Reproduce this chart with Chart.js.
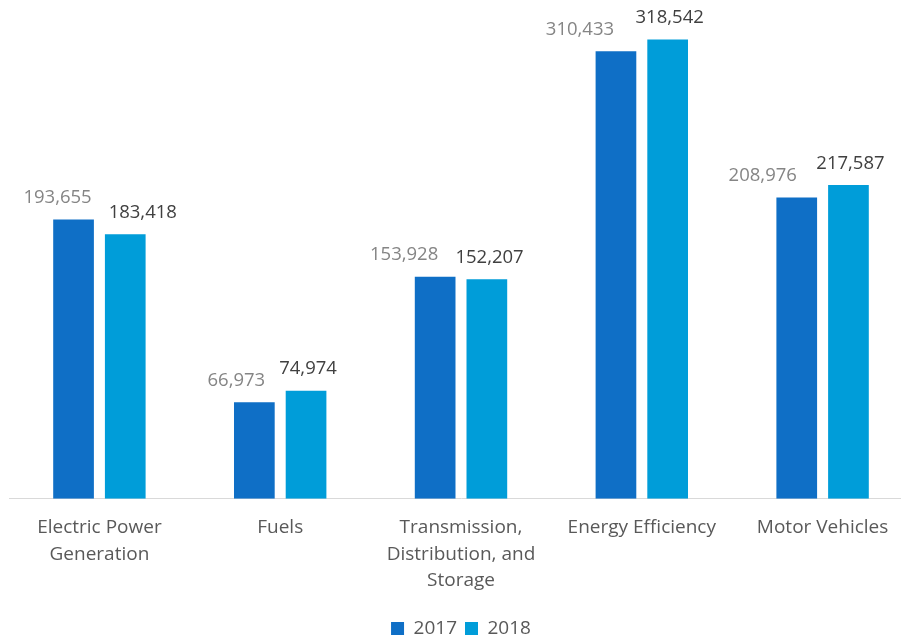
<!DOCTYPE html>
<html>
<head>
<meta charset="utf-8">
<script src="https://cdn.jsdelivr.net/npm/chart.js@4"></script>
<style>
html,body{margin:0;padding:0;background:#fff;overflow:hidden;width:901px;height:637px;}
#wrap{width:913px;height:650px;position:relative;}
</style>
</head>
<body>
<div id="wrap"><canvas id="c"></canvas></div>
<script>
const categories = [
  ["Electric Power", "Generation"],
  "Fuels",
  ["Transmission,", "Distribution, and", "Storage"],
  "Energy Efficiency",
  "Motor Vehicles"
];
const seriesNames = ["2017", "2018"];
const values2017 = [193655, 66973, 153928, 310433, 208976];
const values2018 = [183418, 74974, 152207, 318542, 217587];
// horizontal nudges of the value labels (as placed in the original)
const labelShift2017 = [-16, -18, -31, -36, -34];
const labelShift2018 = [17.5, 2, 2.7, 2, 2];

const FONT = "'Open Sans', sans-serif";

const dataLabelPlugin = {
  id: 'dataLabels',
  afterDatasetsDraw(chart) {
    const ctx = chart.ctx;
    const colors = ['#858585', '#404040'];
    const shifts = [labelShift2017, labelShift2018];
    chart.data.datasets.forEach((ds, i) => {
      const meta = chart.getDatasetMeta(i);
      meta.data.forEach((bar, j) => {
        ctx.save();
        ctx.font = '18.5px ' + FONT;
        ctx.fillStyle = colors[i];
        ctx.textAlign = 'center';
        ctx.textBaseline = 'alphabetic';
        ctx.fillText(ds.data[j].toLocaleString('en-US'), bar.x + shifts[i][j], bar.y - 16.5);
        ctx.restore();
      });
    });
  }
};

new Chart(document.getElementById('c'), {
  type: 'bar',
  data: {
    labels: categories,
    datasets: [
      { label: seriesNames[0], data: values2017, backgroundColor: '#0F6FC6', borderWidth: 0 },
      { label: seriesNames[1], data: values2018, backgroundColor: '#009DD9', borderWidth: 0 }
    ]
  },
  options: {
    responsive: true,
    maintainAspectRatio: false,
    animation: false,
    layout: { padding: { left: 9, right: 0, top: 0, bottom: 2 } },
    categoryPercentage: 0.572,
    barPercentage: 0.787,
    scales: {
      x: {
        grid: { display: false, drawTicks: false },
        border: { display: true, color: '#d9d9d9', width: 1 },
        ticks: {
          color: '#595959',
          font: { family: FONT, size: 19, lineHeight: 1.4 },
          padding: 15.5,
          maxRotation: 0,
          autoSkip: false
        },
        afterFit(scale) { scale.height += 1.5; }
      },
      y: {
        display: false,
        min: 0,
        max: 346000
      }
    },
    plugins: {
      legend: {
        position: 'bottom',
        labels: {
          color: '#595959',
          font: { family: FONT, size: 19 },
          boxWidth: 13,
          boxHeight: 13,
          padding: 8
        }
      },
      tooltip: { enabled: false }
    }
  },
  plugins: [dataLabelPlugin]
});
</script>
</body>
</html>
